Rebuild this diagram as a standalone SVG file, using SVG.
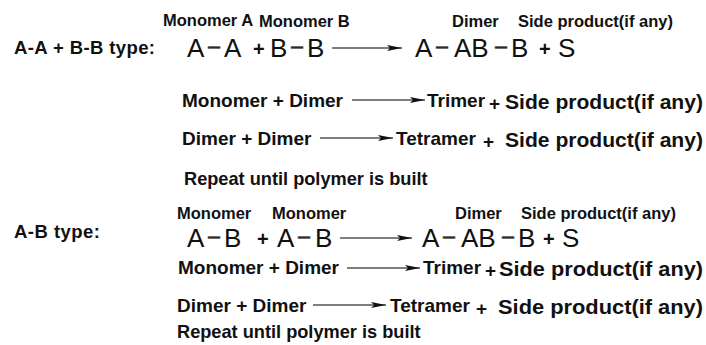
<svg xmlns="http://www.w3.org/2000/svg" width="706" height="345" viewBox="0 0 706 345">
<style>
.lbl{font-family:"Liberation Sans",Arial,sans-serif;font-weight:bold;fill:#111;}
.hd{font-size:16.5px;}
.row{font-size:19px;}
.side{font-size:19.5px;}
.rep{font-size:18.2px;}
.big{font-family:"Liberation Sans",Arial,sans-serif;font-size:26px;fill:#111;}
.dash{font-family:"Liberation Sans",Arial,sans-serif;font-weight:bold;font-size:14px;fill:#2a2a2a;stroke:#2a2a2a;stroke-width:0.5;}
.plus{font-family:"Liberation Sans",Arial,sans-serif;font-weight:bold;font-size:20px;fill:#111;}
.arr{stroke:#555;stroke-width:1.3;fill:none;marker-end:url(#ah);}
</style>
<defs>
<marker id="ah" markerUnits="userSpaceOnUse" markerWidth="16" markerHeight="7" refX="15" refY="3.5" orient="auto">
<path d="M0,0.5 L15,3.5 L0,6.5 L3,3.5 Z" fill="#111"/>
</marker>
</defs>
<rect width="706" height="345" fill="#fff"/>

<g id="sectionAA">
<text class="lbl hd" x="163" y="26">Monomer A</text>
<text class="lbl hd" x="259" y="27">Monomer B</text>
<text class="lbl" font-size="18.5" x="14" y="54" textLength="141" lengthAdjust="spacing">A-A + B-B type:</text>
<text class="big" x="187" y="57">A</text>
<text class="dash" x="208" y="51.5" textLength="12" lengthAdjust="spacingAndGlyphs">—</text>
<text class="big" x="224" y="57">A</text>
<text class="plus" x="253" y="56">+</text>
<text class="big" x="270" y="57">B</text>
<text class="dash" x="291" y="51.5" textLength="12" lengthAdjust="spacingAndGlyphs">—</text>
<text class="big" x="307" y="57">B</text>
<text class="lbl hd" x="452" y="27">Dimer</text>
<text class="lbl hd" x="518" y="27">Side product(if any)</text>
<text class="big" x="415" y="57">A</text>
<text class="dash" x="436" y="51.5" textLength="12" lengthAdjust="spacingAndGlyphs">—</text>
<text class="big" x="454" y="57">AB</text>
<text class="dash" x="495" y="51.5" textLength="12" lengthAdjust="spacingAndGlyphs">—</text>
<text class="big" x="511" y="57">B</text>
<text class="plus" x="539" y="56">+</text>
<text class="big" x="558" y="57">S</text>
</g>

<g id="rowAA2">
<text class="lbl row" x="182" y="107">Monomer + Dimer</text>
<text class="lbl row" x="427" y="107">Trimer</text>
<text class="lbl row" x="489" y="110">+</text>
<text class="lbl side" x="505" y="109" textLength="198" lengthAdjust="spacingAndGlyphs">Side product(if any)</text>
</g>
<g id="rowAA3">
<text class="lbl row" x="182" y="145">Dimer + Dimer</text>
<text class="lbl row" x="396" y="145">Tetramer</text>
<text class="lbl row" x="483" y="148">+</text>
<text class="lbl side" x="505" y="147" textLength="198" lengthAdjust="spacingAndGlyphs">Side product(if any)</text>
</g>
<g id="rowAA4">
<text class="lbl rep" x="184" y="185">Repeat until polymer is built</text>
</g>

<g id="sectionAB">
<text class="lbl hd" x="177" y="219">Monomer</text>
<text class="lbl hd" x="272" y="219">Monomer</text>
<text class="lbl" font-size="18.5" x="14" y="238" textLength="86" lengthAdjust="spacing">A-B type:</text>
<text class="big" x="187" y="247">A</text>
<text class="dash" x="208" y="241.5" textLength="12" lengthAdjust="spacingAndGlyphs">—</text>
<text class="big" x="224" y="247">B</text>
<text class="plus" x="257" y="246">+</text>
<text class="big" x="277" y="247">A</text>
<text class="dash" x="298" y="241.5" textLength="12" lengthAdjust="spacingAndGlyphs">—</text>
<text class="big" x="315" y="247">B</text>
<text class="lbl hd" x="455" y="219">Dimer</text>
<text class="lbl hd" x="521" y="219">Side product(if any)</text>
<text class="big" x="422" y="247">A</text>
<text class="dash" x="443" y="241.5" textLength="12" lengthAdjust="spacingAndGlyphs">—</text>
<text class="big" x="461" y="247">AB</text>
<text class="dash" x="502" y="241.5" textLength="12" lengthAdjust="spacingAndGlyphs">—</text>
<text class="big" x="518" y="247">B</text>
<text class="plus" x="543" y="246">+</text>
<text class="big" x="562" y="247">S</text>
</g>

<g id="rowAB2">
<text class="lbl row" x="178" y="274">Monomer + Dimer</text>
<text class="lbl row" x="423" y="274">Trimer</text>
<text class="lbl row" x="485" y="277">+</text>
<text class="lbl side" x="499" y="276" textLength="204" lengthAdjust="spacingAndGlyphs">Side product(if any)</text>
</g>
<g id="rowAB3">
<text class="lbl row" x="177" y="312">Dimer + Dimer</text>
<text class="lbl row" x="390" y="312">Tetramer</text>
<text class="lbl row" x="476" y="315">+</text>
<text class="lbl side" x="498" y="314" textLength="205" lengthAdjust="spacingAndGlyphs">Side product(if any)</text>
</g>
<g id="rowAB4">
<text class="lbl rep" x="177" y="338">Repeat until polymer is built</text>
</g>

<g id="connectors">
<line class="arr" x1="332" y1="48" x2="402" y2="48"/>
<line class="arr" x1="352" y1="100" x2="425" y2="100"/>
<line class="arr" x1="320" y1="138" x2="393" y2="138"/>
<line class="arr" x1="340" y1="238" x2="412" y2="238"/>
<line class="arr" x1="347" y1="268" x2="420" y2="268"/>
<line class="arr" x1="313" y1="305" x2="386" y2="305"/>
</g>
</svg>
